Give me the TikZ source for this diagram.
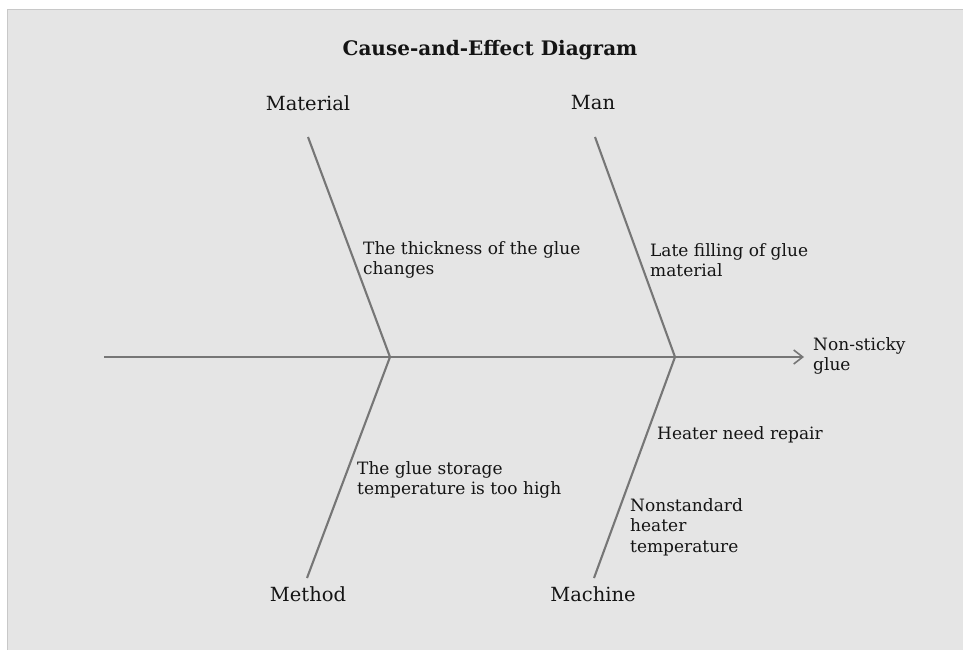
\documentclass[tikz,border=0pt]{standalone}
\usepackage{fontspec}
\setmainfont{DejaVu Serif}
\usetikzlibrary{arrows.meta}
\definecolor{bg}{HTML}{E5E5E5}
\definecolor{edge}{HTML}{C8C8C8}
\definecolor{bone}{HTML}{767676}
\definecolor{ink}{HTML}{141414}
\begin{document}
\begin{tikzpicture}[x=1pt,y=-1pt,
  bonestyle/.style={draw=bone,line width=2.1pt},
  cat/.style={text=ink,font=\fontsize{19.5}{22}\selectfont,inner sep=0pt},
  cause/.style={text=ink,font=\fontsize{17}{20.5}\selectfont,align=left,anchor=west,inner sep=0pt},
]
\useasboundingbox (0,0) rectangle (963,650);
\fill[bg] (7,10) rectangle (963,650);
\draw[edge,line width=1pt] (7,650) -- (7,10) -- (963,10);
\node[text=ink,font=\bfseries\fontsize{20}{22}\selectfont] (title) at (490,50) {Cause-and-Effect Diagram};
% spine
\coordinate (tail) at (104,357);
\coordinate (j1) at (390,357);
\coordinate (j2) at (675,357);
\coordinate (head) at (804,357);
\draw[bonestyle,-{Straight Barb[length=9pt,width=14pt,line width=1.6pt]}] (tail) -- (head);
% bones
\coordinate (matT) at (308,137);
\coordinate (manT) at (595,137);
\coordinate (metB) at (307,578);
\coordinate (macB) at (594,578);
\draw[bonestyle] (matT) -- (j1) -- (metB);
\draw[bonestyle] (manT) -- (j2) -- (macB);
% category labels
\node[cat] (material) at (308,103) {Material};
\node[cat] (man) at (593,103) {Man};
\node[cat] (method) at (308,594) {Method};
\node[cat] (machine) at (593,594) {Machine};
% causes
\node[cause] (c1) at (363,260) {The thickness of the glue\\changes};
\node[cause] (c2) at (650,260) {Late filling of glue\\material};
\node[cause] (c3) at (357,480) {The glue storage\\temperature is too high};
\node[cause] (c4) at (657,435) {Heater need repair};
\node[cause] (c5) at (630,527) {Nonstandard\\heater\\temperature};
\node[cause] (effect) at (813,356) {Non-sticky\\glue};
\end{tikzpicture}
\end{document}
